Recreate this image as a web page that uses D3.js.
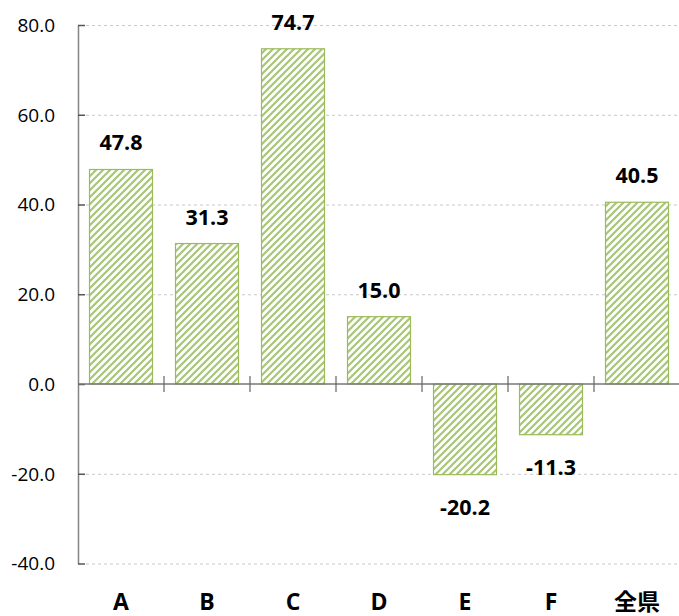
<!DOCTYPE html>
<html>
<head>
<meta charset="utf-8">
<script src="https://cdn.jsdelivr.net/npm/d3@7"></script>
<style>
  body { margin: 0; background: #fff; }
  svg { display: block; font-family: "Open Sans", "Noto Sans CJK JP", sans-serif; }
</style>
</head>
<body>
<div id="chart"></div>
<script>
// data
var categories = ["A", "B", "C", "D", "E", "F", "全県"];
var values = [47.8, 31.3, 74.7, 15.0, -20.2, -11.3, 40.5];
var yTicks = [80, 60, 40, 20, 0, -20, -40];

// colours
var green = "#9bbb59";
var stripe = "#a9c677";
var axisColor = "#858585";
var gridColor = "#c8c8c8";

var width = 679, height = 616;
var plotLeft = 78, plotRight = 680, plotTop = 25, plotBottom = 563.5;

// hyphen minus like the original
var fmt = function(d) { return d3.format(".1f")(d).replace("\u2212", "-"); };

var svg = d3.select("#chart").append("svg")
  .attr("width", width)
  .attr("height", height);

var defs = svg.append("defs");
var pat = defs.append("pattern")
  .attr("id", "hatch")
  .attr("patternUnits", "userSpaceOnUse")
  .attr("width", 7)
  .attr("height", 7);
pat.append("rect").attr("width", 7).attr("height", 7).attr("fill", "#fff");
pat.append("path")
  .attr("d", "M-2,2 L2,-2 M0,7 L7,0 M5,9 L9,5")
  .attr("stroke", stripe)
  .attr("stroke-width", 2.2);

var x = d3.scaleBand()
  .domain(categories)
  .range([plotLeft, plotRight])
  .paddingInner(0.256)
  .paddingOuter(0.128);

var y = d3.scaleLinear()
  .domain([-40, 80])
  .range([plotBottom, plotTop]);

// gridlines
svg.append("g")
  .selectAll("line")
  .data(yTicks.filter(function(d) { return d !== 0; }))
  .enter().append("line")
  .attr("x1", plotLeft + 8)
  .attr("x2", width)
  .attr("y1", function(d) { return y(d) + 0.5; })
  .attr("y2", function(d) { return y(d) + 0.5; })
  .attr("stroke", gridColor)
  .attr("stroke-dasharray", "3,3");

// y axis
var yAxis = svg.append("g")
  .attr("transform", "translate(" + plotLeft + ",0)")
  .call(d3.axisRight(y).tickValues(yTicks).tickSize(7).tickSizeOuter(0).tickFormat(""));
yAxis.select(".domain").attr("stroke", axisColor).attr("stroke-width", 1.5);
yAxis.selectAll(".tick line").attr("stroke", "#555").attr("stroke-width", 1.5);

svg.append("g")
  .selectAll("text")
  .data(yTicks)
  .enter().append("text")
  .attr("x", 55)
  .attr("y", function(d) { return y(d); })
  .attr("dy", "0.36em")
  .attr("text-anchor", "end")
  .attr("font-size", 19)
  .attr("fill", "#000")
  .text(fmt);

// bars
svg.append("g")
  .selectAll("rect")
  .data(values)
  .enter().append("rect")
  .attr("x", function(d, i) { return x(categories[i]) + 0.5; })
  .attr("y", function(d) { return Math.min(y(d), y(0)); })
  .attr("width", x.bandwidth() - 1)
  .attr("height", function(d) { return Math.abs(y(d) - y(0)); })
  .attr("fill", "url(#hatch)")
  .attr("stroke", green)
  .attr("stroke-width", 1.2);

// x axis at zero
svg.append("line")
  .attr("x1", plotLeft)
  .attr("x2", width)
  .attr("y1", y(0))
  .attr("y2", y(0))
  .attr("stroke", "#777")
  .attr("stroke-width", 1.5);

var step = x.step();
svg.append("g")
  .selectAll("line")
  .data(categories.slice(1))
  .enter().append("line")
  .attr("x1", function(d) { return x(d) - step * x.paddingInner() / 2; })
  .attr("x2", function(d) { return x(d) - step * x.paddingInner() / 2; })
  .attr("y1", y(0) - 8)
  .attr("y2", y(0) + 8)
  .attr("stroke", "#666")
  .attr("stroke-width", 1.2);

// value labels
svg.append("g")
  .selectAll("text")
  .data(values)
  .enter().append("text")
  .attr("x", function(d, i) { return x(categories[i]) + x.bandwidth() / 2; })
  .attr("y", function(d) { return d >= 0 ? y(d) - 19 : y(d) + 40; })
  .attr("text-anchor", "middle")
  .attr("font-size", 21.5)
  .attr("font-weight", "bold")
  .attr("fill", "#000")
  .text(fmt);

// category labels
svg.append("g")
  .selectAll("text")
  .data(categories)
  .enter().append("text")
  .attr("x", function(d) { return x(d) + x.bandwidth() / 2; })
  .attr("y", 610)
  .attr("text-anchor", "middle")
  .attr("font-size", 23)
  .attr("font-weight", "bold")
  .attr("fill", "#000")
  .text(function(d) { return d; });
</script>
</body>
</html>
